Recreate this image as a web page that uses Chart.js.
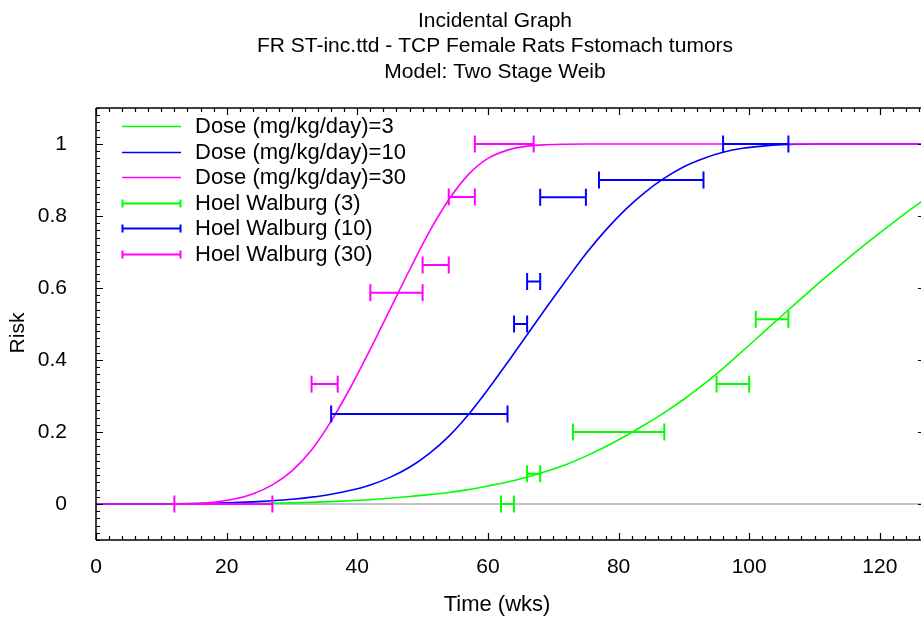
<!DOCTYPE html>
<html>
<head>
<meta charset="utf-8">
<script src="https://cdn.jsdelivr.net/npm/chart.js@4.4.1/dist/chart.umd.min.js"></script>
<style>
  html, body { margin: 0; padding: 0; background: #fff; }
  #wrap { width: 921px; height: 617px; }
</style>
</head>
<body>
<div id="wrap"><canvas id="g1"></canvas></div>
<script>
// fitted curves
var curveTime = [0, 3, 6, 9, 12, 15, 18, 21, 24, 27, 30, 33, 36, 39, 42, 45, 48, 51, 54, 57,
  60, 63, 66, 69, 72, 75, 78, 81, 84, 87, 90, 93, 96, 99, 102, 105, 108, 111, 114, 117, 120, 123, 126, 127];
var risk3 = [0, 0, 0, 0, 0.0001, 0.0003, 0.0006, 0.001, 0.0015, 0.002, 0.003, 0.0045, 0.0065, 0.009, 0.012, 0.016, 0.021, 0.026, 0.032, 0.04,
  0.05, 0.061, 0.075, 0.091, 0.11, 0.133, 0.159, 0.188, 0.22, 0.254, 0.291, 0.332, 0.377, 0.425, 0.474, 0.523, 0.571, 0.619, 0.665, 0.71, 0.753, 0.795, 0.835, 0.847];
var risk10 = [0, 0, 0, 0.0002, 0.0005, 0.001, 0.002, 0.004, 0.006, 0.009, 0.013, 0.019, 0.027, 0.038, 0.053, 0.074, 0.102, 0.14, 0.188, 0.248,
  0.318, 0.393, 0.47, 0.547, 0.622, 0.695, 0.76, 0.817, 0.865, 0.905, 0.937, 0.96, 0.977, 0.988, 0.994, 0.998, 0.9995, 1, 1, 1, 1, 1, 1, 1];
var risk30 = [0, 0, 0, 0.0001, 0.0004, 0.0015, 0.005, 0.013, 0.028, 0.053, 0.092, 0.15, 0.23, 0.325, 0.43, 0.54, 0.65, 0.755, 0.845, 0.915,
  0.96, 0.983, 0.994, 0.998, 0.9995, 1, 1, 1, 1, 1, 1, 1, 1, 1, 1, 1, 1, 1, 1, 1, 1, 1, 1, 1];

// Hoel Walburg intervals
var hw3Low  = [62, 66, 73, 95, 101];
var hw3High = [64, 68, 87, 100, 106];
var hw3Risk = [0, 0.084, 0.2, 0.333, 0.513];

var hw10Low  = [36, 64, 66, 68, 77, 96];
var hw10High = [63, 66, 68, 75, 93, 106];
var hw10Risk = [0.25, 0.5, 0.618, 0.852, 0.9, 1];

var hw30Low  = [12, 33, 42, 50, 54, 58];
var hw30High = [27, 37, 50, 54, 58, 67];
var hw30Risk = [0, 0.333, 0.587, 0.664, 0.853, 1];

var xTicks = [0, 20, 40, 60, 80, 100, 120];
var yTicks = [0, 0.2, 0.4, 0.6, 0.8, 1];

var FONT = "'Liberation Sans', Arial, Helvetica, sans-serif";

function curve(risk) {
  return curveTime.map(function (t, i) { return { x: t, y: risk[i] }; });
}

function intervals(lo, hi, r) {
  var pts = [];
  for (var i = 0; i < lo.length; i++) {
    pts.push({ x: lo[i], y: r[i] }, { x: hi[i], y: r[i] }, { x: hi[i], y: null });
  }
  return pts;
}

function curveSet(label, color, risk, order) {
  return {
    label: label, data: curve(risk), borderColor: color, borderWidth: 1.6,
    pointRadius: 0, cubicInterpolationMode: 'monotone', fill: false, order: order
  };
}

function hwSet(label, color, lo, hi, r, order) {
  return {
    label: label, data: intervals(lo, hi, r), borderColor: color, borderWidth: 2,
    pointStyle: 'line', pointRotation: 90, pointRadius: 8.5, pointBorderWidth: 2,
    pointBorderColor: color, pointBackgroundColor: color, spanGaps: false,
    fill: false, order: order, isBar: true
  };
}

// inward ticks, frame, titles and legend
var decor = {
  id: 'decor',
  afterDraw: function (chart) {
    var c = chart.ctx, a = chart.chartArea;
    var xs = chart.scales.x, ys = chart.scales.y;
    c.save();
    c.strokeStyle = '#000';
    c.lineWidth = 1.5;
    c.beginPath();
    c.moveTo(a.left, a.top); c.lineTo(a.right, a.top);
    c.moveTo(a.left, a.top); c.lineTo(a.left, a.bottom);
    c.moveTo(a.left, a.bottom); c.lineTo(a.right, a.bottom);
    c.stroke();

    c.lineWidth = 1.2;
    c.beginPath();
    var v, p, len;
    for (v = 0; v <= xs.max; v += 2) {
      p = Math.round(xs.getPixelForValue(v)) + 0.5;
      len = (v % 20 === 0) ? 7 : 4;
      c.moveTo(p, a.bottom); c.lineTo(p, a.bottom - len);
      c.moveTo(p, a.top); c.lineTo(p, a.top + len);
    }
    for (var k = -5; k <= 55; k++) {
      v = k / 50;
      p = Math.round(ys.getPixelForValue(v)) + 0.5;
      len = (k % 10 === 0) ? 7 : 4;
      c.moveTo(a.left, p); c.lineTo(a.left + len, p);
      if (k % 10 === 0) { c.moveTo(a.right, p); c.lineTo(a.right - 3, p); }
    }
    c.stroke();

    c.fillStyle = '#000';
    c.textAlign = 'center';
    c.textBaseline = 'middle';
    c.font = '21px ' + FONT;
    c.fillText('Incidental Graph', 495, 21);
    c.fillText('FR ST-inc.ttd - TCP Female Rats Fstomach tumors', 495, 46.5);
    c.fillText('Model: Two Stage Weib', 495, 72);

    c.font = '22px ' + FONT;
    c.fillText('Time (wks)', 497, 605);
    c.font = '21px ' + FONT;
    c.save();
    c.translate(18, 333);
    c.rotate(-Math.PI / 2);
    c.fillText('Risk', 0, 0);
    c.restore();

    // legend
    c.textAlign = 'left';
    chart.data.datasets.forEach(function (ds, i) {
      var y = Math.round(126 + i * 25.5) + 0.5;
      c.strokeStyle = ds.borderColor;
      c.lineWidth = ds.isBar ? 2 : 1.6;
      c.beginPath();
      c.moveTo(122, y); c.lineTo(181, y);
      if (ds.isBar) {
        c.moveTo(122.5, y - 4); c.lineTo(122.5, y + 4);
        c.moveTo(180.5, y - 4); c.lineTo(180.5, y + 4);
      }
      c.stroke();
      c.fillStyle = '#000';
      c.font = '22px ' + FONT;
      c.fillText(ds.label, 195, y);
    });
    c.restore();
  }
};

var ctx = document.getElementById('g1').getContext('2d');
var myChart = new Chart(ctx, {
  type: 'line',
  data: {
    datasets: [
      curveSet('Dose (mg/kg/day)=3', '#00ff00', risk3, 6),
      curveSet('Dose (mg/kg/day)=10', '#0000ff', risk10, 5),
      curveSet('Dose (mg/kg/day)=30', '#ff00ff', risk30, 4),
      hwSet('Hoel Walburg (3)', '#00ff00', hw3Low, hw3High, hw3Risk, 3),
      hwSet('Hoel Walburg (10)', '#0000ff', hw10Low, hw10High, hw10Risk, 2),
      hwSet('Hoel Walburg (30)', '#ff00ff', hw30Low, hw30High, hw30Risk, 1)
    ]
  },
  options: {
    responsive: true,
    maintainAspectRatio: false,
    animation: false,
    layout: { autoPadding: false, padding: { left: 0, top: 108, right: 0, bottom: 0 } },
    plugins: { legend: { display: false }, title: { display: false }, tooltip: { enabled: false } },
    scales: {
      x: {
        type: 'linear', min: 0, max: 126.3,
        afterFit: function (s) { s.height = 77; s.paddingLeft = 0; s.paddingRight = 0; },
        afterBuildTicks: function (s) { s.ticks = xTicks.map(function (v) { return { value: v }; }); },
        grid: { display: false, drawTicks: false },
        border: { display: false },
        ticks: { font: { size: 21, family: FONT }, color: '#000', padding: 15, maxRotation: 0 }
      },
      y: {
        type: 'linear', min: -0.1, max: 1.1,
        afterFit: function (s) { s.width = 96; s.paddingTop = 0; s.paddingBottom = 0; },
        afterBuildTicks: function (s) { s.ticks = yTicks.map(function (v) { return { value: v }; }); },
        grid: {
          drawTicks: false,
          lineWidth: 2,
          color: function (c) { return c.tick && c.tick.value === 0 ? '#c4c4c4' : 'rgba(0,0,0,0)'; }
        },
        border: { display: false },
        ticks: {
          font: { size: 21, family: FONT }, color: '#000', padding: 29,
          callback: function (v) { return String(Math.round(v * 100) / 100); }
        }
      }
    }
  },
  plugins: [decor]
});
</script>
</body>
</html>
